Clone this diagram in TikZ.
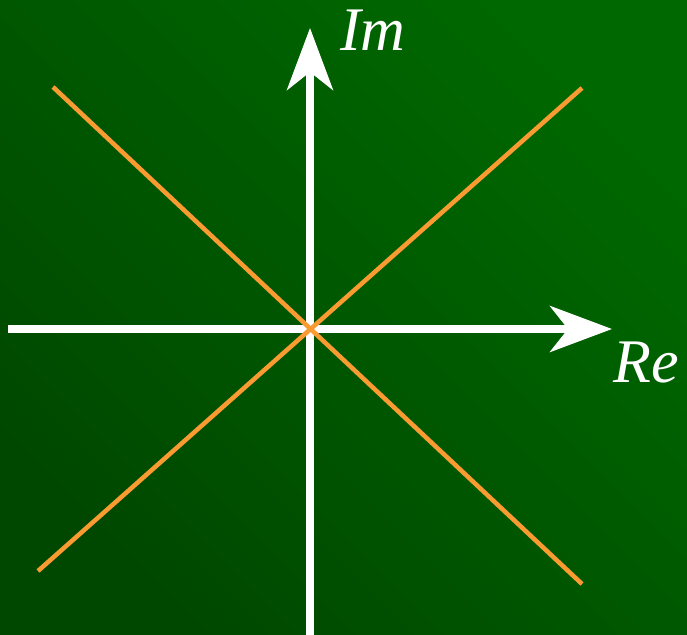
\documentclass[tikz,border=0pt]{standalone}
\usepackage{fontspec}
\setmainfont{Liberation Serif}[ItalicFont={Liberation Serif Italic}]
\usetikzlibrary{arrows.meta}
\definecolor{bgdark}{RGB}{0,72,0}
\definecolor{bglight}{RGB}{0,104,0}
\definecolor{orangeline}{RGB}{250,155,50}
\tikzset{
  axis/.style={draw=white, line width=7.5pt, -{Stealth[length=62pt, width=46pt, inset=18pt]}},
  diag/.style={draw=orangeline, line width=4.5pt},
  lbl/.style={text=white, font=\fontsize{62}{62}\selectfont\itshape, inner sep=0pt, anchor=base west}
}
\begin{document}
\begin{tikzpicture}[x=1pt, y=-1pt]
  \useasboundingbox (0,0) rectangle (687,634);
  \shade[left color=bgdark, right color=bglight, shading angle=135] (0,0) rectangle (687,634);
  \coordinate (xs) at (8,329);
  \coordinate (xe) at (612,329);
  \coordinate (ys) at (310,640);
  \coordinate (ye) at (310,28);
  \coordinate (a1) at (53,87);
  \coordinate (a2) at (582,584);
  \coordinate (b1) at (38,571);
  \coordinate (b2) at (582,88);
  \draw[axis] (xs) -- (xe);
  \draw[axis] (ys) -- (ye);
  \draw[diag] (a1) -- (a2);
  \draw[diag] (b1) -- (b2);
  \node[lbl] (im) at (340,50) {Im};
  \node[lbl] (re) at (613,382) {Re};
\end{tikzpicture}
\end{document}
